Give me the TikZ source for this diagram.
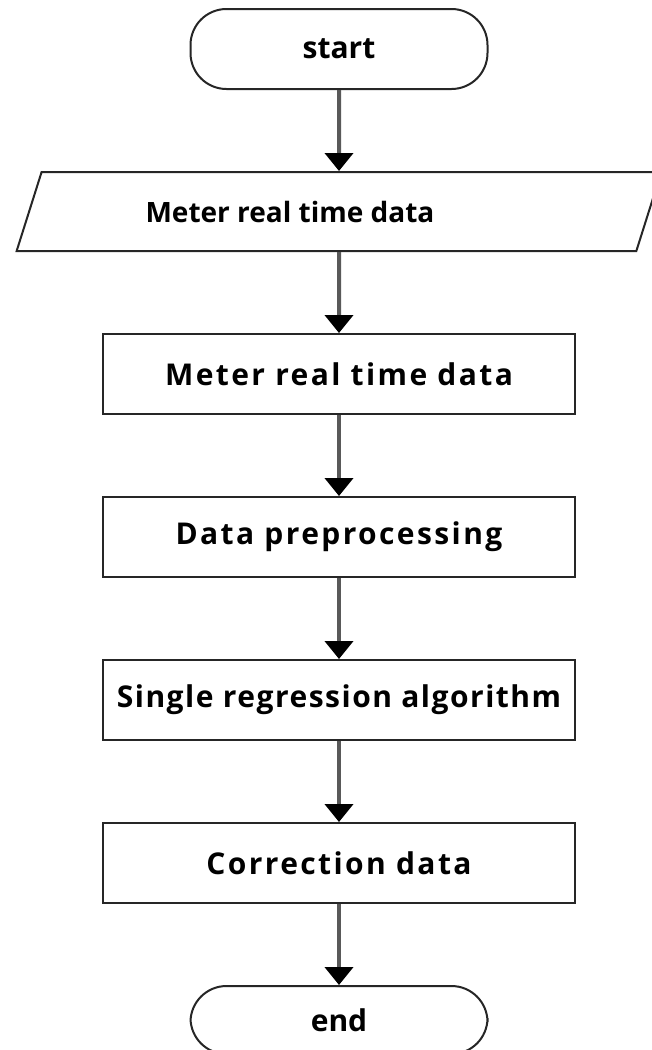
\documentclass[tikz,border=0pt]{standalone}
\usepackage{fontspec}
\setmainfont{Open Sans}
\usetikzlibrary{shapes.geometric, arrows.meta, positioning}

\begin{document}
\begin{tikzpicture}[
  node distance=40.5pt,
  term/.style={rectangle, rounded corners=18pt, draw=black!85, line width=1pt, fill=white,
               minimum width=148.5pt, minimum height=40pt, inner sep=0pt,
               font=\fontsize{15}{18}\selectfont\bfseries},
  io/.style={trapezium, trapezium left angle=53, trapezium right angle=127,
             trapezium stretches=true, draw=black!85, line width=1pt, fill=white,
             minimum width=323pt, minimum height=39.5pt, inner sep=0pt,
             font=\fontsize{14}{17}\selectfont\bfseries},
  proc/.style={rectangle, draw=black!85, line width=1pt, fill=white,
               minimum width=236pt, minimum height=40pt, inner sep=0pt,
               font=\fontsize{15}{18}\selectfont\bfseries\addfontfeature{LetterSpace=8}},
  arr/.style={-{Triangle[length=9pt, width=14pt, color=black]}, line width=2pt, draw=black!65}
]
\useasboundingbox (0,0) rectangle (326pt,-525pt);

% terminals, input, steps
\node[term] (start) at (169.5pt,-24.5pt) {start};
\node[io, below=of start] (meter) {Meter real time data\hspace*{49pt}};
\node[proc, below=of meter] (read) {Meter real time data};
\node[proc, below=of read] (prep) {Data preprocessing};
\node[proc, below=of prep] (regr) {\addfontfeature{LetterSpace=5}Single regression algorithm};
\node[proc, below=of regr] (corr) {Correction data};
\node[term, minimum height=34pt, below=of corr] (end) {end};

\draw[arr] (start) -- (meter);
\draw[arr] (meter) -- (read);
\draw[arr] (read) -- (prep);
\draw[arr] (prep) -- (regr);
\draw[arr] (regr) -- (corr);
\draw[arr] (corr) -- (end);

\end{tikzpicture}
\end{document}
